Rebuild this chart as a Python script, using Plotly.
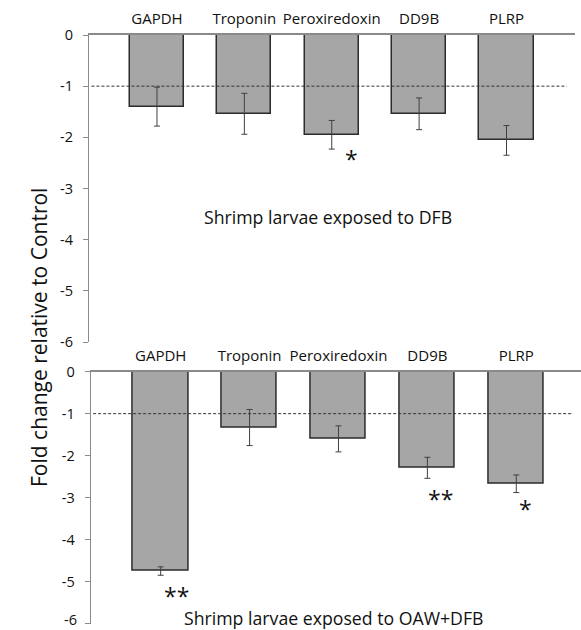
import plotly.graph_objects as go

genes = ["GAPDH", "Troponin", "Peroxiredoxin", "DD9B", "PLRP"]
dfb_values = [-1.40, -1.54, -1.95, -1.54, -2.06]
dfb_errors = [0.38, 0.40, 0.28, 0.31, 0.29]
oaw_values = [-4.75, -1.33, -1.60, -2.29, -2.67]
oaw_errors = [0.10, 0.43, 0.31, 0.25, 0.21]
y_ticks = [0, -1, -2, -3, -4, -5, -6]
y_ticktext = ["0", "-1", "-2", "-3", "-4", "-5", "-6"]
dfb_stars = [("Peroxiredoxin", -2.36, "*")]
oaw_stars = [("GAPDH", -5.27, "**"), ("DD9B", -2.97, "**"), ("PLRP", -3.21, "*")]
threshold = -1
panel_titles = ["Shrimp larvae exposed to DFB", "Shrimp larvae exposed to OAW+DFB"]
y_title = "Fold change relative to Control"

# style-only offsets (pixels) for the significance marks
dfb_star_shift = [20]
oaw_star_shift = [16, 13, 9]

FONT = "Open Sans"
BAR_FILL = "#a6a6a6"
BAR_LINE = "#2b2b2b"
AXIS = "#8a8a8a"

fig = go.Figure()

def add_bars(vals, errs, xa, ya):
    fig.add_trace(go.Bar(
        x=genes, y=vals, width=0.62,
        marker=dict(color=BAR_FILL, line=dict(color=BAR_LINE, width=1.5)),
        error_y=dict(type="data", array=errs, visible=True, color="#404040",
                     thickness=1, width=3),
        xaxis=xa, yaxis=ya, showlegend=False, hoverinfo="skip",
    ))

add_bars(dfb_values, dfb_errors, "x", "y")
add_bars(oaw_values, oaw_errors, "x2", "y2")

W, H = 581, 630

def xaxis(domain, rng):
    return dict(domain=domain, type="category", categoryorder="array", categoryarray=genes,
                range=rng, side="top", showline=True, linecolor=AXIS, linewidth=1.5,
                ticks="", showgrid=False, zeroline=False, automargin=False,
                tickfont=dict(family=FONT, size=15, color="#111"), ticklabelstandoff=3)

def yaxis(domain, anchor, texts):
    return dict(domain=domain, anchor=anchor, range=[-6, 0], tickvals=y_ticks, ticktext=texts,
                ticks="outside", ticklen=5, tickcolor=AXIS, tickwidth=1.2, automargin=False,
                showline=True, linecolor=AXIS, linewidth=1.2, showgrid=False, zeroline=False,
                ticklabeloverflow="allow", ticklabelstandoff=7,
                tickfont=dict(family=FONT, size=14.5, color="#111"))

top_x = [89 / W, 575 / W]
bot_x = [90.7 / W, 1.0]
top_y = [1 - 342 / H, 1 - 35 / H]
bot_y = [1 - 623.5 / H, 1 - 371.7 / H]

xa1 = xaxis(top_x, [-0.778, 4.784]); xa1["anchor"] = "y"
xa2 = xaxis(bot_x, [-0.787, 4.728]); xa2["anchor"] = "y2"

# bottom-most tick label is drawn as an annotation so it stays inside the page
bottom_texts = y_ticktext[:-1] + [""]

shapes = []
for xr, yr, end in (("x", "y", 0.983), ("x2", "y2", 0.98)):
    shapes.append(dict(type="line", xref=xr + " domain", yref=yr, x0=0.005, x1=end,
                       y0=threshold, y1=threshold,
                       line=dict(color="#333", width=1, dash="3px,2px")))

annotations = []
for (g, yv, s), sh in zip(dfb_stars, dfb_star_shift):
    annotations.append(dict(x=g, y=yv, xref="x", yref="y", text=s, showarrow=False,
                            xshift=sh, yanchor="middle", yshift=-3,
                            font=dict(family=FONT, size=23, color="#111")))
for (g, yv, s), sh in zip(oaw_stars, oaw_star_shift):
    annotations.append(dict(x=g, y=yv, xref="x2", yref="y2", text=s, showarrow=False,
                            xshift=sh, yanchor="middle", yshift=-3,
                            font=dict(family=FONT, size=23, color="#111")))
annotations.append(dict(x=1.96, y=-3.55, xref="x", yref="y", text=panel_titles[0], showarrow=False,
                        font=dict(family=FONT, size=17.7, color="#111")))
annotations.append(dict(x=1.95, y=-5.87, xref="x2", yref="y2", text=panel_titles[1], showarrow=False,
                        font=dict(family=FONT, size=17.7, color="#111")))
annotations.append(dict(x=23 / W, y=1 - 338 / H, xref="paper", yref="paper", text=y_title,
                        showarrow=False, textangle=-90,
                        font=dict(family=FONT, size=21, color="#111")))
annotations.append(dict(x=0, y=0, xref="x2 domain", yref="paper", text=y_ticktext[-1],
                        showarrow=False, xanchor="right", yanchor="bottom", xshift=-12, yshift=-1,
                        font=dict(family=FONT, size=14.5, color="#111")))

fig.update_layout(
    width=W, height=H, margin=dict(l=0, r=0, t=0, b=0, autoexpand=False),
    paper_bgcolor="white", plot_bgcolor="white",
    xaxis=xa1, yaxis=yaxis(top_y, "x", y_ticktext),
    xaxis2=xa2, yaxis2=yaxis(bot_y, "x2", bottom_texts),
    shapes=shapes, annotations=annotations, bargap=0,
)

fig.write_html("out.html", config={"displayModeBar": False},
               post_script="document.body.style.margin='0px';document.body.style.overflow='hidden';")
